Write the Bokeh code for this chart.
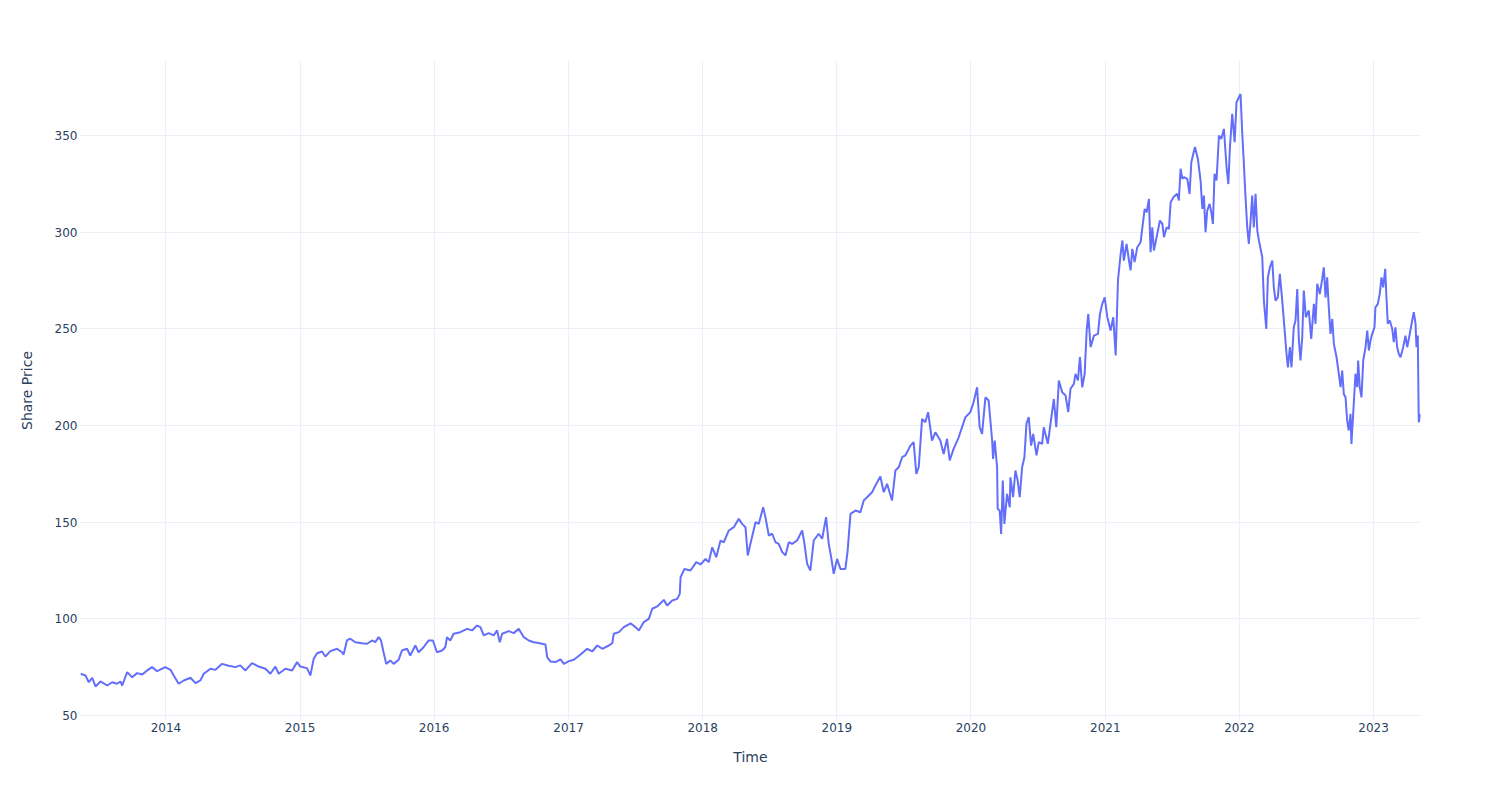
import numpy as np
import pandas as pd
from bokeh.plotting import figure
from bokeh.models import Range1d, FixedTicker, DatetimeTickFormatter, ColumnDataSource
from bokeh.embed import file_html
from bokeh.resources import INLINE

# Dates as decimal years and share prices
decimal_years = [
    2013.363, 2013.400, 2013.425, 2013.450, 2013.475, 2013.512, 2013.562, 2013.599, 2013.636, 2013.661,
    2013.674, 2013.711, 2013.748, 2013.785, 2013.823, 2013.860, 2013.897, 2013.934, 2013.996, 2014.034,
    2014.058, 2014.095, 2014.133, 2014.183, 2014.220, 2014.257, 2014.282, 2014.332, 2014.369, 2014.419,
    2014.468, 2014.518, 2014.555, 2014.593, 2014.642, 2014.692, 2014.742, 2014.779, 2014.816, 2014.841,
    2014.891, 2014.941, 2014.978,
    2015.002, 2015.052, 2015.077, 2015.102, 2015.127, 2015.164, 2015.189, 2015.226, 2015.276, 2015.313,
    2015.325, 2015.350, 2015.375, 2015.412, 2015.462, 2015.500, 2015.537, 2015.561, 2015.586, 2015.604,
    2015.623, 2015.643, 2015.673, 2015.698, 2015.735, 2015.760, 2015.798, 2015.822, 2015.860, 2015.884,
    2015.921, 2015.959, 2015.991, 2016.021, 2016.059, 2016.083, 2016.096, 2016.120, 2016.145, 2016.195,
    2016.245, 2016.282, 2016.319, 2016.344, 2016.369, 2016.406, 2016.443, 2016.468, 2016.488, 2016.506,
    2016.555, 2016.592, 2016.629, 2016.667, 2016.704, 2016.741,
    2016.767, 2016.828, 2016.841, 2016.866, 2016.903, 2016.940, 2016.965, 2017.002, 2017.039, 2017.089,
    2017.139, 2017.176, 2017.214, 2017.251, 2017.300, 2017.326, 2017.337, 2017.375, 2017.412, 2017.462,
    2017.499, 2017.524, 2017.561, 2017.598, 2017.624, 2017.661, 2017.710, 2017.735, 2017.773, 2017.810,
    2017.829, 2017.835, 2017.864, 2017.909, 2017.952, 2017.984, 2018.021, 2018.045, 2018.071, 2018.101,
    2018.133, 2018.157, 2018.195, 2018.232, 2018.269, 2018.294, 2018.319, 2018.336, 2018.356, 2018.394,
    2018.418,
    2018.451, 2018.468, 2018.493, 2018.518, 2018.543, 2018.567, 2018.593, 2018.617, 2018.642, 2018.667,
    2018.704, 2018.742, 2018.759, 2018.779, 2018.803, 2018.828, 2018.865, 2018.891, 2018.920, 2018.940,
    2018.958, 2018.977, 2019.002, 2019.027, 2019.064, 2019.081, 2019.102, 2019.139, 2019.176, 2019.201,
    2019.226, 2019.263, 2019.288, 2019.325, 2019.350, 2019.375, 2019.412, 2019.437, 2019.462, 2019.487,
    2019.511, 2019.549, 2019.573, 2019.593, 2019.611, 2019.636, 2019.660, 2019.681, 2019.710, 2019.735,
    2019.772, 2019.797, 2019.822, 2019.842, 2019.871, 2019.909,
    2019.959, 2019.996, 2020.020, 2020.046, 2020.065, 2020.083, 2020.108, 2020.132, 2020.158, 2020.165,
    2020.177, 2020.195, 2020.199, 2020.214, 2020.225, 2020.237, 2020.249, 2020.269, 2020.289, 2020.294,
    2020.314, 2020.331, 2020.348, 2020.363, 2020.381, 2020.398, 2020.413, 2020.430, 2020.448, 2020.463,
    2020.488, 2020.505, 2020.530, 2020.542, 2020.572, 2020.592, 2020.617, 2020.635, 2020.654, 2020.679,
    2020.704, 2020.724, 2020.741, 2020.766, 2020.778, 2020.796, 2020.811, 2020.828, 2020.846, 2020.861,
    2020.873, 2020.890, 2020.915, 2020.945, 2020.960, 2020.977, 2020.995, 2021.015, 2021.039, 2021.059,
    2021.077, 2021.094,
    2021.114, 2021.127, 2021.138, 2021.158, 2021.176, 2021.188, 2021.201, 2021.218, 2021.238, 2021.263,
    2021.276, 2021.293, 2021.308, 2021.325, 2021.337, 2021.350, 2021.362, 2021.387, 2021.407, 2021.425,
    2021.437, 2021.457, 2021.474, 2021.487, 2021.511, 2021.536, 2021.548, 2021.561, 2021.574, 2021.586,
    2021.611, 2021.628, 2021.641, 2021.668, 2021.690, 2021.710, 2021.723, 2021.735, 2021.747, 2021.760,
    2021.777, 2021.790, 2021.802, 2021.814, 2021.829, 2021.847, 2021.864, 2021.884, 2021.904, 2021.917,
    2021.929, 2021.946, 2021.964, 2021.978, 2021.996, 2022.008, 2022.021, 2022.033, 2022.045, 2022.058,
    2022.070, 2022.083, 2022.095, 2022.107, 2022.120, 2022.133,
    2022.145, 2022.170, 2022.182, 2022.200, 2022.212, 2022.227, 2022.245, 2022.256, 2022.269, 2022.286,
    2022.301, 2022.319, 2022.331, 2022.351, 2022.361, 2022.376, 2022.388, 2022.405, 2022.418, 2022.431,
    2022.443, 2022.455, 2022.468, 2022.480, 2022.495, 2022.517, 2022.535, 2022.555, 2022.567, 2022.580,
    2022.599, 2022.617, 2022.629, 2022.642, 2022.654, 2022.666, 2022.679, 2022.692, 2022.704, 2022.724,
    2022.741, 2022.754, 2022.766, 2022.778, 2022.791, 2022.803, 2022.815, 2022.828, 2022.835, 2022.848,
    2022.865, 2022.878, 2022.885, 2022.897, 2022.910, 2022.923, 2022.940, 2022.953, 2022.965, 2022.977,
    2022.990, 2023.007, 2023.014, 2023.032, 2023.046, 2023.059, 2023.072, 2023.087, 2023.096, 2023.106,
    2023.121, 2023.139, 2023.151, 2023.163, 2023.176, 2023.188, 2023.201, 2023.221, 2023.238, 2023.251,
    2023.270, 2023.288, 2023.300, 2023.313, 2023.320, 2023.330, 2023.337, 2023.350,
]

share_price = [
    71.6, 70.7, 67.2, 69.5, 65.0, 67.6, 65.5, 67.2, 66.4, 67.6,
    65.5, 72.4, 69.8, 71.9, 71.2, 73.3, 75.0, 72.9, 75.0, 73.6,
    70.7, 66.4, 68.1, 69.5, 66.7, 68.1, 71.6, 74.2, 73.6, 76.7,
    75.7, 75.0, 75.9, 73.3, 77.1, 75.3, 74.2, 71.6, 75.3, 71.6,
    74.2, 73.3, 77.6,
    75.3, 74.5, 70.7, 79.3, 82.2, 83.1, 80.5, 83.3, 84.5, 82.7,
    81.5, 88.8, 89.7, 87.9, 87.4, 87.1, 88.8, 87.9, 90.5, 88.8,
    82.7, 76.7, 78.4, 76.7, 78.8, 83.6, 84.5, 81.0, 86.2, 82.7,
    85.3, 88.8, 88.8, 82.7, 83.6, 85.3, 90.5, 88.8, 92.3, 93.1,
    94.8, 94.0, 96.5, 95.7, 91.4, 92.6, 91.4, 94.0, 87.9, 92.3,
    93.6, 92.6, 94.8, 90.5, 88.8, 87.9,
    87.6, 86.7, 80.2, 77.9, 77.6, 79.0, 76.7, 78.1, 78.8, 81.5,
    84.5, 83.1, 86.2, 84.5, 86.2, 87.4, 92.3, 93.1, 95.7, 97.7,
    95.7, 94.0, 98.3, 100.0, 105.2, 106.4, 109.8, 106.9, 109.5, 110.3,
    112.9, 121.5, 125.8, 125.0, 129.3, 128.1, 131.0, 129.3, 137.0, 131.9,
    140.5, 139.6, 145.7, 147.4, 151.7, 149.1, 147.4, 132.8, 138.8, 150.0,
    149.1,
    157.7, 152.6, 143.1, 144.0, 139.6, 138.8, 134.5, 132.8, 139.6, 138.8,
    140.5, 145.7, 138.8, 128.4, 125.0, 140.5, 144.0, 141.4, 152.6, 138.8,
    131.9, 123.3, 131.0, 125.8, 125.8, 135.3, 154.3, 156.0, 155.1, 161.2,
    162.9, 165.5, 169.0, 173.6, 165.5, 169.8, 161.2, 176.7, 178.4, 183.6,
    184.5, 189.6, 191.4, 175.0, 178.4, 203.4, 201.7, 206.9, 192.2, 196.5,
    192.2, 185.3, 193.1, 181.9, 187.9, 193.9,
    204.3, 206.9, 212.0, 219.8, 199.1, 195.7, 214.6, 212.9, 192.2, 182.7,
    192.2, 178.4, 156.9, 156.0, 143.9, 171.5, 149.1, 164.6, 157.7, 173.2,
    162.9, 176.7, 171.5, 162.9, 178.4, 183.6, 200.9, 204.3, 189.6, 195.7,
    184.5, 191.4, 190.5, 199.1, 190.5, 200.9, 213.7, 199.1, 223.3, 217.2,
    215.5, 206.9, 219.0, 221.5, 226.7, 223.3, 235.4, 219.8, 226.7, 249.1,
    257.7, 240.5, 246.5, 247.4, 257.7, 262.9, 266.3, 256.0, 249.1, 256.0,
    236.2, 275.0,
    288.8, 295.7, 285.3, 293.9, 285.3, 280.2, 291.4, 284.5, 292.2, 294.8,
    302.5, 312.0, 310.3, 317.2, 289.6, 302.5, 290.5, 299.1, 306.0, 304.3,
    297.4, 302.5, 301.7, 315.5, 318.4, 319.8, 316.4, 332.8, 327.6, 328.5,
    327.6, 319.8, 336.2, 344.0, 337.9, 326.7, 312.0, 318.9, 300.0, 311.2,
    314.6, 310.3, 304.3, 330.2, 326.7, 350.0, 348.2, 353.4, 333.5, 324.9,
    344.0, 361.2, 346.5, 367.2, 369.8, 371.5, 350.8, 335.3, 318.1, 302.5,
    293.9, 306.0, 318.9, 302.5, 319.8, 300.8,
    295.7, 287.1, 264.6, 250.0, 276.6, 281.8, 285.3, 271.5, 264.6, 266.3,
    278.4, 264.6, 254.3, 237.1, 230.1, 240.5, 230.1, 250.8, 254.3, 270.6,
    244.0, 233.6, 245.6, 269.8, 256.0, 259.5, 244.8, 262.9, 252.6, 273.3,
    268.0, 275.8, 281.8, 266.3, 276.6, 261.1, 247.4, 255.1, 242.2, 235.3,
    226.7, 219.8, 228.4, 216.3, 214.6, 202.6, 197.4, 206.0, 190.5, 206.0,
    226.7, 219.8, 233.6, 219.8, 214.6, 233.6, 240.5, 249.1, 238.8, 244.0,
    247.4, 250.8, 261.1, 262.9, 268.0, 276.6, 271.5, 281.0, 266.3, 252.6,
    254.3, 250.0, 243.1, 250.8, 240.5, 237.1, 235.3, 240.5, 246.5, 240.5,
    247.4, 254.3, 258.6, 252.6, 240.5, 246.5, 201.7, 206.0,
]

x_tick_years = [2014, 2015, 2016, 2017, 2018, 2019, 2020, 2021, 2022, 2023]
y_ticks = [50, 100, 150, 200, 250, 300, 350]
x_title = "Time"
y_title = "Share Price"


def to_datetime(t):
    y = int(np.floor(t))
    start = pd.Timestamp(year=y, month=1, day=1)
    end = pd.Timestamp(year=y + 1, month=1, day=1)
    return start + (t - y) * (end - start)


dates = [to_datetime(t) for t in decimal_years]
source = ColumnDataSource(dict(date=dates, price=share_price))

FONT = "DejaVu Sans"
TXT = "#2a3f5f"
GRID = "#ebf0f8"

p = figure(
    width=1500, height=800,
    x_axis_type="datetime",
    x_range=Range1d(dates[0], dates[-1]),
    y_range=Range1d(47.4, 388.8),
    output_backend="svg", toolbar_location=None,
    min_border_left=80, min_border_right=80,
    min_border_top=60, min_border_bottom=80,
    background_fill_color="white", border_fill_color="white",
)
p.outline_line_color = None

p.line("date", "price", source=source, line_color="#636efa", line_width=2)

tick_ms = [pd.Timestamp(year=y, month=1, day=1).value / 1e6 for y in x_tick_years]
p.xaxis.ticker = FixedTicker(ticks=tick_ms)
p.xaxis.formatter = DatetimeTickFormatter(
    years="%Y", months="%Y", days="%Y", hours="%Y", hourmin="%Y",
    minutes="%Y", minsec="%Y", seconds="%Y", milliseconds="%Y", microseconds="%Y",
)
p.yaxis.ticker = FixedTicker(ticks=y_ticks)

for ax in (p.xaxis[0], p.yaxis[0]):
    ax.axis_line_color = None
    ax.major_tick_line_color = None
    ax.minor_tick_line_color = None
    ax.major_tick_out = 0
    ax.major_tick_in = 0
    ax.minor_tick_out = 0
    ax.minor_tick_in = 0
    ax.major_label_text_font = FONT
    ax.major_label_text_font_size = "12px"
    ax.major_label_text_color = TXT
    ax.axis_label_text_font = FONT
    ax.axis_label_text_font_size = "14px"
    ax.axis_label_text_color = TXT
    ax.axis_label_text_font_style = "normal"

p.xaxis.axis_label = x_title
p.yaxis.axis_label = y_title
p.xaxis.major_label_standoff = 2
p.xaxis.axis_label_standoff = 14
p.yaxis.major_label_standoff = 3
p.yaxis.axis_label_standoff = 17

p.xgrid.grid_line_color = GRID
p.ygrid.grid_line_color = GRID
p.xgrid.grid_line_width = 1
p.ygrid.grid_line_width = 1

open("out.html", "w").write(file_html(p, INLINE))
